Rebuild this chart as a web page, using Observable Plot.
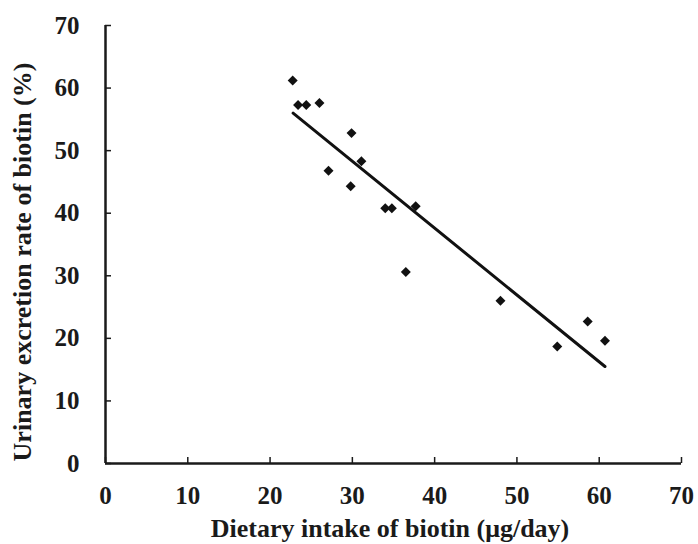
<!DOCTYPE html>
<html>
<head>
<meta charset="utf-8">
<script src="https://cdn.jsdelivr.net/npm/d3@7"></script>
<script src="https://cdn.jsdelivr.net/npm/@observablehq/plot@0.6"></script>
<style>
  html, body { margin: 0; padding: 0; background: #fff; }
  #chart svg { display: block; }
</style>
</head>
<body>
<div id="chart"></div>
<script>
// Dietary intake of biotin (µg/day)
const intake = [22.75, 23.4, 24.4, 26.0, 29.9, 31.1, 27.1, 29.8, 34.0, 34.8, 37.7, 36.5, 48.0, 54.9, 58.6, 60.7];
// Urinary excretion rate of biotin (%)
const excretion = [61.2, 57.3, 57.3, 57.6, 52.8, 48.3, 46.8, 44.3, 40.8, 40.8, 41.1, 30.6, 26.0, 18.7, 22.7, 19.6];
// Fitted line end points
const fitX = [22.8, 60.7];
const fitY = [56.0, 15.5];
const xTicks = [0, 10, 20, 30, 40, 50, 60, 70];
const yTicks = [0, 10, 20, 30, 40, 50, 60, 70];
const xTitle = "Dietary intake of biotin (μg/day)";
const yTitle = "Urinary excretion rate of biotin (%)";

const points = intake.map((x, i) => ({x, y: excretion[i]}));
const fit = fitX.map((x, i) => ({x, y: fitY[i]}));

const font = "'Liberation Serif', 'Times New Roman', serif";
const ink = "#1a1a1a";

const chart = Plot.plot({
  width: 698,
  height: 544,
  marginLeft: 105,
  marginRight: 17,
  marginTop: 25,
  marginBottom: 81,
  style: {fontFamily: font, background: "#fff", color: ink},
  x: {domain: [0, 70]},
  y: {domain: [0, 70]},
  marks: [
    Plot.ruleX([0], {stroke: ink, strokeWidth: 2.5}),
    Plot.ruleY([0], {stroke: ink, strokeWidth: 2.5}),
    Plot.axisX({ticks: xTicks, tickSize: -6, tickPadding: 29, strokeWidth: 1.5, fontSize: 25, fontWeight: "bold", label: null, stroke: ink, fill: ink}),
    Plot.axisY({ticks: yTicks, tickSize: -6, tickPadding: 32, strokeWidth: 1.5, fontSize: 25, fontWeight: "bold", label: null, stroke: ink, fill: ink}),
    Plot.line(fit, {x: "x", y: "y", stroke: "#111", strokeWidth: 3}),
    Plot.dot(points, {x: "x", y: "y", symbol: "diamond2", r: 4.5, fill: "#111", stroke: "none"}),
    Plot.text([xTitle], {frameAnchor: "bottom", textAnchor: "middle", dy: 73, lineAnchor: "bottom", fontSize: 26, fontWeight: "bold", fill: ink, dx: -3.5}),
    Plot.text([yTitle], {frameAnchor: "left", textAnchor: "middle", lineAnchor: "middle", rotate: -90, dx: -83, dy: 17.5, fontSize: 26, fontWeight: "bold", fill: ink})
  ]
});
document.getElementById("chart").appendChild(chart);
</script>
</body>
</html>
